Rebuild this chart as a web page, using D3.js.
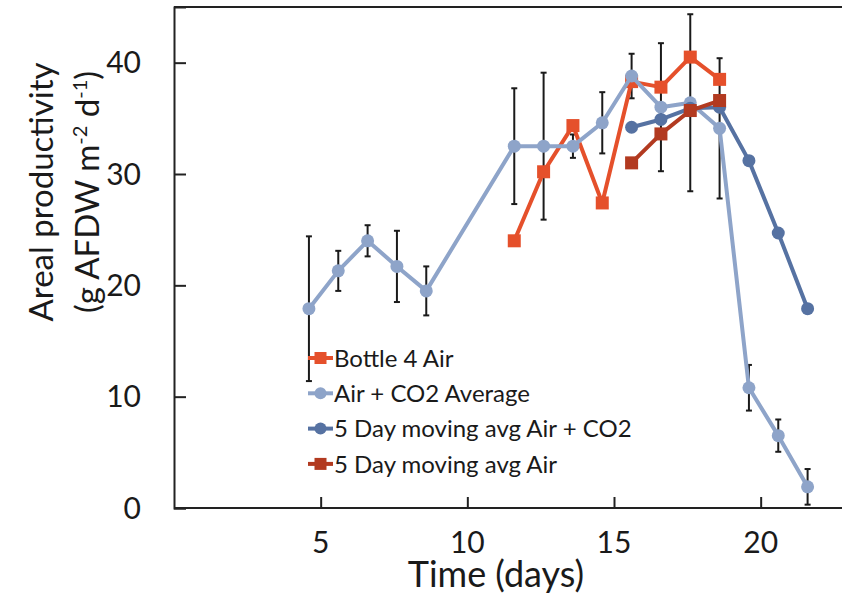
<!DOCTYPE html>
<html>
<head>
<meta charset="utf-8">
<script src="https://cdn.jsdelivr.net/npm/d3@7"></script>
<style>
  html, body { margin: 0; padding: 0; background: #fff; }
  svg { display: block; }
  text { font-family: Lato, "Open Sans", sans-serif; fill: #1a1a1a; }
</style>
</head>
<body>
<svg id="chart" width="846" height="602"></svg>
<script>
// Areal productivity over time (days)
const daysAvg = [4.6, 5.6, 6.6, 7.6, 8.6, 11.6, 12.6, 13.6, 14.6, 15.6, 16.6, 17.6, 18.6, 19.6, 20.6, 21.6];
const airCo2Avg = [17.9, 21.3, 24.0, 21.7, 19.5, 32.5, 32.5, 32.5, 34.6, 38.8, 36.0, 36.4, 34.1, 10.8, 6.5, 1.9];
const airCo2Err = [6.5, 1.8, 1.4, 3.2, 2.2, 5.2, 6.6, 1.05, 2.75, 2.0, 5.75, 7.95, 6.3, 2.05, 1.45, 1.6];

const daysBottle = [11.6, 12.6, 13.6, 14.6, 15.6, 16.6, 17.6, 18.6];
const bottle4Air = [24.0, 30.2, 34.35, 27.4, 38.3, 37.8, 40.5, 38.5];

const daysMovAirCo2 = [15.6, 16.6, 17.6, 18.6, 19.6, 20.6, 21.6];
const movAirCo2 = [34.2, 34.9, 35.9, 36.0, 31.2, 24.7, 17.9];

const daysMovAir = [15.6, 16.6, 17.6, 18.6];
const movAir = [31.0, 33.6, 35.7, 36.6];

const xTicks = [5, 10, 15, 20];
const yTicks = [0, 10, 20, 30, 40];

const seriesNames = ["Bottle 4 Air", "Air + CO2 Average", "5 Day moving avg Air + CO2", "5 Day moving avg Air"];

const colors = {
  bottle: "#e5502b",
  avg: "#8ea4c9",
  movCo2: "#5672a2",
  movAir: "#b23a20"
};

const svg = d3.select("#chart");

const x = d3.scaleLinear().domain([0, 24]).range([174, 878]);
const y = d3.scaleLinear().domain([0, 45]).range([508, 7]);

const zip = (xs, ys) => xs.map((d, i) => ({ x: d, y: ys[i] }));

// frame: top border
svg.append("line")
  .attr("x1", x(0)).attr("x2", 842)
  .attr("y1", y(45)).attr("y2", y(45))
  .attr("stroke", "#222").attr("stroke-width", 2);

// y axis (ticks pointing inward)
const yAxis = d3.axisRight(y).tickValues(yTicks).tickSize(12).tickFormat("");
const gy = svg.append("g").attr("transform", `translate(${x(0)},0)`).call(yAxis);
gy.select(".domain").attr("stroke", "#222").attr("stroke-width", 2);
gy.selectAll(".tick line").attr("stroke", "#222").attr("stroke-width", 2);

// x axis (ticks pointing up into the plot), clipped at the right edge
const xAxis = d3.axisTop(x).tickValues(xTicks).tickSize(11).tickFormat("").tickSizeOuter(0);
const gx = svg.append("g").attr("transform", `translate(0,${y(0)})`).call(xAxis);
gx.select(".domain").attr("d", `M${x(0)},0H842`).attr("stroke", "#222").attr("stroke-width", 2);
gx.selectAll(".tick line").attr("stroke", "#222").attr("stroke-width", 2);

// tick labels
svg.append("g").selectAll("text").data(yTicks).join("text")
  .attr("x", 141).attr("y", d => y(d)).attr("dy", "0.36em")
  .attr("text-anchor", "end").style("font-size", "30px")
  .text(d => d);

svg.append("g").selectAll("text").data(xTicks).join("text")
  .attr("x", d => x(d)).attr("y", 553)
  .attr("text-anchor", "middle").style("font-size", "30px")
  .text(d => d);

// axis titles
svg.append("text")
  .attr("x", 496).attr("y", 587)
  .attr("text-anchor", "middle").style("font-size", "36px")
  .text("Time (days)");

const yTitle = svg.append("g").attr("transform", "translate(53,192) rotate(-90)");
yTitle.append("text").attr("text-anchor", "middle").style("font-size", "33px")
  .text("Areal productivity");
const t2 = yTitle.append("text").attr("y", 46).attr("text-anchor", "middle").style("font-size", "33px");
t2.append("tspan").text("(g AFDW m");
t2.append("tspan").attr("dy", -12).style("font-size", "20px").text("-2");
t2.append("tspan").attr("dy", 12).text(" d");
t2.append("tspan").attr("dy", -12).style("font-size", "20px").text("-1");
t2.append("tspan").attr("dy", 12).text(")");

// error bars for the Air + CO2 average
const avgPts = zip(daysAvg, airCo2Avg).map((p, i) => ({ ...p, e: airCo2Err[i] }));
const eb = svg.append("g").attr("stroke", "#1a1a1a").attr("stroke-width", 2);
avgPts.forEach(p => {
  const top = y(p.y + p.e), bot = y(Math.max(0, p.y - p.e));
  eb.append("line").attr("x1", x(p.x)).attr("x2", x(p.x)).attr("y1", top).attr("y2", bot);
  eb.append("line").attr("x1", x(p.x) - 3).attr("x2", x(p.x) + 3).attr("y1", top).attr("y2", top);
  eb.append("line").attr("x1", x(p.x) - 3).attr("x2", x(p.x) + 3).attr("y1", bot).attr("y2", bot);
});

const line = d3.line().x(d => x(d.x)).y(d => y(d.y));

function drawSeries(pts, color, shape) {
  const g = svg.append("g");
  g.append("path").datum(pts)
    .attr("d", line).attr("fill", "none")
    .attr("stroke", color).attr("stroke-width", 4).attr("stroke-linejoin", "round");
  if (shape === "square") {
    g.selectAll("rect").data(pts).join("rect")
      .attr("x", d => x(d.x) - 6.5).attr("y", d => y(d.y) - 6.5)
      .attr("width", 13).attr("height", 13).attr("fill", color);
  } else {
    g.selectAll("circle").data(pts).join("circle")
      .attr("cx", d => x(d.x)).attr("cy", d => y(d.y)).attr("r", 6.5).attr("fill", color);
  }
}

drawSeries(zip(daysBottle, bottle4Air), colors.bottle, "square");
drawSeries(avgPts, colors.avg, "circle");
drawSeries(zip(daysMovAirCo2, movAirCo2), colors.movCo2, "circle");
drawSeries(zip(daysMovAir, movAir), colors.movAir, "square");

// legend
const legendItems = [
  { name: seriesNames[0], color: colors.bottle, shape: "square" },
  { name: seriesNames[1], color: colors.avg, shape: "circle" },
  { name: seriesNames[2], color: colors.movCo2, shape: "circle" },
  { name: seriesNames[3], color: colors.movAir, shape: "square" }
];
const lg = svg.append("g");
legendItems.forEach((it, i) => {
  const cy = 358 + i * 35.3;
  lg.append("line").attr("x1", 308).attr("x2", 333).attr("y1", cy).attr("y2", cy)
    .attr("stroke", it.color).attr("stroke-width", 4);
  if (it.shape === "square") {
    lg.append("rect").attr("x", 320.5 - 6).attr("y", cy - 6).attr("width", 12).attr("height", 12).attr("fill", it.color);
  } else {
    lg.append("circle").attr("cx", 320.5).attr("cy", cy).attr("r", 6).attr("fill", it.color);
  }
  lg.append("text").attr("x", 334).attr("y", cy).attr("dy", "0.36em")
    .style("font-size", "24px").text(it.name);
});
</script>
</body>
</html>
